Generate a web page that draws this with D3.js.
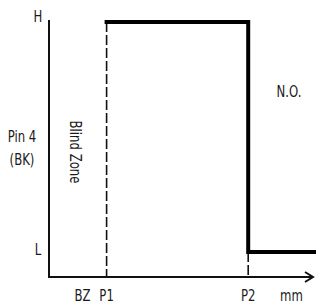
<!DOCTYPE html>
<html>
<head>
<meta charset="utf-8">
<script src="https://cdn.jsdelivr.net/npm/d3@7"></script>
<style>
  body { margin: 0; background: #fff; }
  text { font-family: "DejaVu Sans", sans-serif; font-stretch: condensed; font-size: 15.5px; fill: #1a1a1a; }
</style>
</head>
<body>
<div id="chart"></div>
<script>
// position along the travel axis (arbitrary mm-like units)
const xMarks = ["BZ", "P1", "P2"];
const xMarkPos = [14, 24, 83];
const unitLabel = "mm";
const unitPos = 101;

// output states
const levels = ["L", "H"];
const levelValues = [0, 1];

// switching output, N.O.
const outX = [24, 83, 83, 112];
const outV = [1, 1, 0, 0];

const width = 316, height = 304;
const squeeze = 0.84; // narrow the lettering like the original

const x = d3.scaleLinear().domain([0, 110]).range([49, 313]);
const y = d3.scaleLinear().domain([0, 1]).range([252, 22]);
const axisY = 277;

const svg = d3.select("#chart").append("svg")
    .attr("width", width)
    .attr("height", height);

function label(px, py, txt, rot) {
  svg.append("text")
    .attr("transform", `translate(${px},${py})` + (rot ? ` rotate(${rot})` : "") + ` scale(${squeeze},1)`)
    .attr("text-anchor", "middle")
    .text(txt);
}

// y axis
svg.append("line")
    .attr("x1", x(0)).attr("x2", x(0))
    .attr("y1", 20).attr("y2", axisY + 1)
    .attr("stroke", "#111").attr("stroke-width", 2);

// x axis with arrow
svg.append("line")
    .attr("x1", x(0) - 1).attr("x2", x(110))
    .attr("y1", axisY).attr("y2", axisY)
    .attr("stroke", "#111").attr("stroke-width", 2);
svg.append("path")
    .attr("d", `M${x(110) - 8},${axisY - 5}L${x(110)},${axisY}L${x(110) - 8},${axisY + 5}`)
    .attr("fill", "none").attr("stroke", "#111").attr("stroke-width", 2);

// dashed markers at P1, P2
svg.append("line")
    .attr("x1", x(xMarkPos[1])).attr("x2", x(xMarkPos[1]))
    .attr("y1", y(1)).attr("y2", axisY)
    .attr("stroke", "#111").attr("stroke-width", 1.6)
    .attr("stroke-dasharray", "10,3");
svg.append("line")
    .attr("x1", x(xMarkPos[2])).attr("x2", x(xMarkPos[2]))
    .attr("y1", y(0)).attr("y2", axisY)
    .attr("stroke", "#111").attr("stroke-width", 1.6)
    .attr("stroke-dasharray", "10,3");

// output step line
const line = d3.line()
    .x((d, i) => x(outX[i]))
    .y(d => y(d));
svg.append("path")
    .attr("d", line(outV))
    .attr("fill", "none")
    .attr("stroke", "#000")
    .attr("stroke-width", 4)
    .attr("stroke-linejoin", "miter")
    .attr("stroke-linecap", "square");

// level labels
levelValues.forEach((v, i) => label(38, v === 1 ? y(v) : y(v) + 3, levels[i]));

// x labels
xMarks.forEach((m, i) => label(x(xMarkPos[i]), 301, m));
label(x(unitPos), 301, unitLabel);

// y title
label(22, 142, "Pin 4");
label(22, 165, "(BK)");

// blind zone
label(70, 152, "Blind Zone", 90);

label(289, 97, "N.O.");
</script>
</body>
</html>
